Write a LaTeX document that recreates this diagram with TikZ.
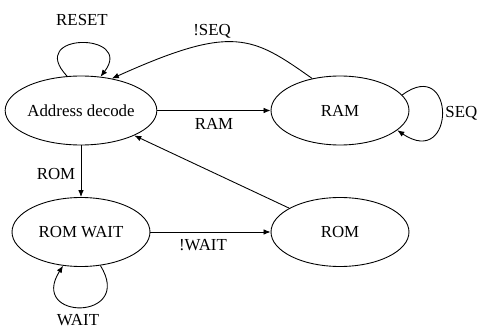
\documentclass[tikz,border=0pt]{standalone}
\usepackage{fontspec}
\setmainfont{Liberation Serif}
\usetikzlibrary{shapes.geometric,arrows.meta}

\begin{document}
\begin{tikzpicture}[x=0.02cm,y=-0.02cm,line width=.5pt,
	font=\fontsize{9.6}{11}\selectfont,
	>={Latex[length=4pt,width=3.2pt]},
	state/.style={draw,ellipse,inner sep=0pt,minimum width=2.76cm,minimum height=1.38cm}]
			\useasboundingbox (0,0) rectangle (478,328);
			\foreach \n/\x/\y/\t in {ad/81/110.5/Address decode,ram/340/110.5/RAM,romwait/81/232/ROM WAIT,rom/340/232/ROM}
			\node[state] (\n) at (\x,\y) {\t};
			% transitions
			\draw[->] (ad) -- (ram);
			\draw[->] (ad) -- (romwait);
			\draw[->] (romwait) -- (rom);
			\draw[->] (rom) -- (ad);
			\draw[->] (ram.131) .. controls (252,36) and (233,24) .. (ad.46);
			% self loops
			\draw[->] (ad.112) .. controls (25,32) and (135,32) .. (ad.60);
			\draw[->] (ram.14) .. controls (456,55) and (456,170) .. (ram.-19);
			\draw[->] (romwait.-60) .. controls (135,321) and (28,321) .. (romwait.-118);
			% labels
			\foreach \n/\x/\y/\t in {lreset/82/20/RESET,lnseq/212/31/!SEQ,lram/214/124/RAM,lrom/56/174/ROM,lnwait/203/245/!WAIT,lwait/78/320/WAIT}
			\node (\n) at (\x,\y) {\t};
			\node[anchor=west,inner sep=0pt] (lseq) at (445,113.5) {SEQ};
		\end{tikzpicture}
\end{document}
